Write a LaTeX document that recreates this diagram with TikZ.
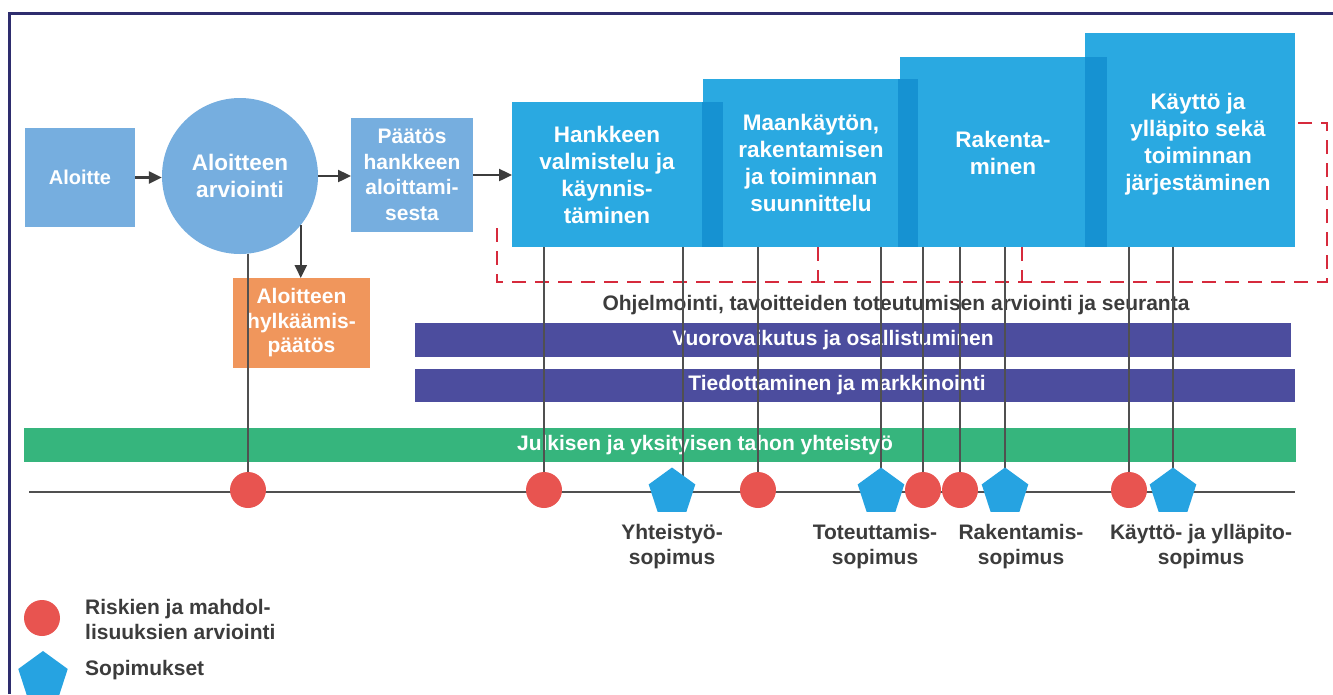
\documentclass[tikz,border=0pt]{standalone}
\usepackage{fontspec}
\setmainfont{Liberation Sans}
\usetikzlibrary{shapes.geometric,arrows.meta}
\definecolor{frame}{RGB}{46,45,110}
\definecolor{lblue}{RGB}{118,174,223}
\definecolor{pblue}{RGB}{42,169,225}
\definecolor{sblue}{RGB}{22,146,210}
\definecolor{orng}{RGB}{240,150,92}
\definecolor{purp}{RGB}{76,77,158}
\definecolor{grn}{RGB}{54,181,125}
\definecolor{rcirc}{RGB}{232,84,80}
\definecolor{pent}{RGB}{38,163,225}
\definecolor{rdash}{RGB}{214,42,60}
\definecolor{txtgray}{RGB}{60,60,60}
\definecolor{linegray}{RGB}{80,80,80}
\begin{document}
\begin{tikzpicture}[x=1pt,y=-1pt,
  box/.style={rectangle,inner sep=0pt,outer sep=0pt,draw=none},
  lbox/.style={box,fill=lblue,text=white,align=center,font=\bfseries\fontsize{21}{25.5}\selectfont},
  phase/.style={box,fill=pblue},
  strip/.style={box,fill=sblue},
  ptext/.style={text=white,align=center,inner sep=0pt,font=\bfseries\fontsize{22.5}{27}\selectfont},
  bar/.style={box,minimum height=34pt},
  btext/.style={text=white,inner sep=0pt,font=\bfseries\fontsize{21}{25}\selectfont},
  gtext/.style={text=txtgray,align=center,inner sep=0pt,font=\bfseries\fontsize{21}{25}\selectfont},
  arr/.style={draw=txtgray,line width=2.4pt,-{Triangle[length=13pt,width=12pt]}},
  vl/.style={draw=linegray,line width=1.2pt},
  riskc/.style={circle,fill=rcirc,minimum size=36pt,inner sep=0pt},
  sopp/.style={regular polygon,regular polygon sides=5,fill=pent,minimum size=49pt,inner sep=0pt},
  rd/.style={draw=rdash,line width=2.9pt,dash pattern=on 14pt off 9pt}
]
\useasboundingbox (0,0) rectangle (1333,694);
\fill[white] (0,0) rectangle (1333,694);
% frame
\draw[frame,line width=3pt] (9,694) -- (9,13) -- (1333,13);

% left flow
\node[lbox,minimum width=110pt,minimum height=99pt,font=\bfseries\fontsize{20}{24}\selectfont] (al) at (80,177.5) {Aloitte};
\node[circle,fill=lblue,minimum size=156pt,inner sep=0pt,text=white,align=center,font=\bfseries\fontsize{22.5}{27}\selectfont] (ci) at (240,176) {Aloitteen\\arviointi};
\node[lbox,minimum width=122pt,minimum height=114pt] (pd) at (412,175) {Päätös\\hankkeen\\aloittami-\\sesta};
\node[lbox,fill=orng,minimum width=137pt,minimum height=90pt,font=\bfseries\fontsize{21}{24.5}\selectfont] (or) at (301.5,323) {Aloitteen\\hylkäämis-\\päätös};

% phase boxes (back to front)
\node[phase,minimum width=210pt,minimum height=214pt] (ky) at (1190,140) {};
\node[phase,minimum width=207pt,minimum height=190pt] (rk) at (1003.5,152) {};
\node[strip,minimum width=22pt,minimum height=190pt] (rks) at (1096,152) {};
\node[phase,minimum width=215pt,minimum height=168pt] (mk) at (810.5,163) {};
\node[strip,minimum width=20pt,minimum height=168pt] (mks) at (908,163) {};
\node[phase,minimum width=211pt,minimum height=145pt] (hk) at (617.5,174.5) {};
\node[strip,minimum width=21pt,minimum height=145pt] (hks) at (712.5,174.5) {};
\node[ptext] (hkt) at (607,175) {Hankkeen\\valmistelu ja\\käynnis-\\täminen};
\node[ptext] (mkt) at (811,163) {Maankäytön,\\rakentamisen\\ja toiminnan\\suunnittelu};
\node[ptext] (rkt) at (1003,153) {Rakenta-\\minen};
\node[ptext] (kyt) at (1198,144) {Käyttö ja\\ylläpito sekä\\toiminnan\\järjestäminen};

% arrows
\draw[arr] (al.east) -- (al.east -| ci.west);
\draw[arr] (ci.east) -- (ci.east -| pd.west);
\draw[arr] (pd.east) -- (pd.east -| hk.west);
\draw[arr] (ci.-39) -- (ci.-39 |- or.north);

% red dashed frames
\coordinate (d1) at (497,228);
\coordinate (d2) at (1327,123);
\draw[rd] (d1) -- (d1 |- 0,282) -- (d2 |- 0,282) -- (d2) -- (d2 -| ky.east);
\draw[rd] (mk.south -| 818,0) -- (818,282);
\draw[rd] (rk.south -| 1022,0) -- (1022,282);

% label line
\node[gtext] (ohj) at (896,305) {Ohjelmointi, tavoitteiden toteutumisen arviointi ja seuranta};

% bars
\node[bar,fill=purp,minimum width=876pt] (b1) at (853,340) {};
\node[btext] (b1t) at (833,340) {Vuorovaikutus ja osallistuminen};
\node[bar,fill=purp,minimum width=880pt,minimum height=33pt] (b2) at (855,385.5) {};
\node[btext] (b2t) at (837,385.5) {Tiedottaminen ja markkinointi};
\node[bar,fill=grn,minimum width=1272pt] (b3) at (660,445) {};
\node[btext] (b3t) at (705,445) {Julkisen ja yksityisen tahon yhteistyö};

% timeline
\coordinate (tl0) at (29,492);
\coordinate (tl1) at (1295,492);
\draw[draw=linegray,line width=2pt] (tl0) -- (tl1);

% markers positions
\coordinate (r1) at (248,490);
\coordinate (r2) at (544,490);
\coordinate (r3) at (758,490);
\coordinate (r4) at (923,490);
\coordinate (r5) at (960,490);
\coordinate (r6) at (1129,490);
\coordinate (p1) at (672,492);
\coordinate (p2) at (881,492);
\coordinate (p3) at (1005,492);
\coordinate (p4) at (1173,492);

% vertical connectors
\draw[vl] (ci.south -| r1) -- (r1);
\draw[vl] (hk.south -| r2) -- (r2);
\draw[vl] (hk.south -| 683,0) -- (p1 -| 683,0);
\draw[vl] (mk.south -| r3) -- (r3);
\draw[vl] (mk.south -| p2) -- (p2);
\draw[vl] (rk.south -| r4) -- (r4);
\draw[vl] (rk.south -| r5) -- (r5);
\draw[vl] (rk.south -| p3) -- (p3);
\draw[vl] (ky.south -| r6) -- (r6);
\draw[vl] (ky.south -| p4) -- (p4);

% markers
\node[riskc] (m1) at (r1) {};
\node[riskc] (m2) at (r2) {};
\node[riskc] (m3) at (r3) {};
\node[sopp] (s2) at (p2) {};
\node[riskc] (m4) at (r4) {};
\node[riskc] (m5) at (r5) {};
\node[sopp] (s3) at (p3) {};
\node[riskc] (m6) at (r6) {};
\node[sopp] (s4) at (p4) {};
\node[sopp] (s1) at (p1) {};

% contract labels
\node[gtext] (l1) at (672,547) {Yhteistyö-\\sopimus};
\node[gtext] (l2) at (875,547) {Toteuttamis-\\sopimus};
\node[gtext] (l3) at (1021,547) {Rakentamis-\\sopimus};
\node[gtext] (l4) at (1201,547) {Käyttö- ja ylläpito-\\sopimus};

% legend
\node[riskc] (lg1) at (42,618) {};
\node[gtext,anchor=west,align=left] (lg1t) at (85,619) {Riskien ja mahdol-\\lisuuksien arviointi};
\node[sopp,minimum size=52pt] (lg2) at (43,677) {};
\node[gtext,anchor=west] (lg2t) at (85,670) {Sopimukset};
\end{tikzpicture}
\end{document}
